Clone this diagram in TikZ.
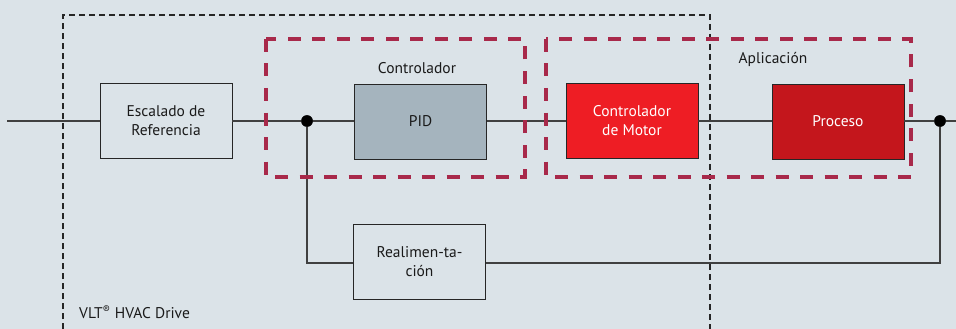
\documentclass[tikz,border=0pt]{standalone}
\usepackage{fontspec}
\setmainfont{PT Sans}
\definecolor{bg}{RGB}{219,227,232}
\definecolor{linec}{RGB}{64,64,64}
\definecolor{pidfill}{RGB}{165,180,190}
\definecolor{motorfill}{RGB}{238,29,36}
\definecolor{procfill}{RGB}{196,22,28}
\definecolor{reddash}{RGB}{168,41,74}
\definecolor{txt}{RGB}{26,26,26}
\begin{document}
\begin{tikzpicture}[x=1pt,y=-1pt,
  blk/.style={draw=black!85,line width=0.9pt,minimum width=132pt,minimum height=75pt,align=center,font=\fontsize{15.5}{19}\selectfont,text=txt,inner sep=0pt},
  conn/.style={draw=linec,line width=1.1pt},
  grp/.style={draw=reddash,line width=3.8pt,dash pattern=on 13pt off 11.5pt},
  drive/.style={draw=black!85,line width=1.3pt,dash pattern=on 6pt off 4pt},
  lbl/.style={font=\fontsize{15.5}{19}\selectfont,text=txt,inner sep=0pt},
  dot/.style={circle,fill=black,minimum size=11.5pt,inner sep=0pt}]
\fill[bg] (0,0) rectangle (956,329);
\useasboundingbox (0,0) rectangle (956,329);
% blocks
\node[blk,fill=bg] (esc) at (166,120.5) {Escalado de\\Referencia};
\node[blk,fill=pidfill] (pid) at (420.5,121.5) {PID};
\node[blk,fill=motorfill,text=white] (mot) at (632,120.5) {Controlador\\de Motor};
\node[blk,fill=procfill,text=white] (proc) at (838,121.5) {Proceso};
\node[blk,fill=bg] (fb) at (419.5,261.5) {Realimen-ta-\\ción};
% junctions and ends
\coordinate (in) at (7,121);
\node[dot] (j1) at (307,121) {};
\node[dot] (j2) at (940,121) {};
\coordinate (out) at (956,121);
\coordinate (c1) at (307,263);
\coordinate (c2) at (940,263);
% connectors
\draw[conn] (in) -- (esc.west|-in);
\draw[conn] (esc.east|-in) -- (j1);
\draw[conn] (j1) -- (pid.west|-j1);
\draw[conn] (pid.east|-j1) -- (mot.west|-j1);
\draw[conn] (mot.east|-j1) -- (proc.west|-j1);
\draw[conn] (proc.east|-j1) -- (j2) -- (out);
\draw[conn] (j1) -- (c1) -- (fb.west|-c1);
\draw[conn] (fb.east|-c2) -- (c2) -- (j2);
% redraw dots on top
\node[dot] at (j1) {};
\node[dot] at (j2) {};
% groups
\coordinate (dA) at (63,329);
\coordinate (dB) at (63,15);
\coordinate (dC) at (710,15);
\coordinate (dD) at (710,329);
\draw[drive] (dA) -- (dB) -- (dC) -- (dD);
\coordinate (g1a) at (266,39);
\coordinate (g1b) at (525,177);
\coordinate (g2a) at (546,39);
\coordinate (g2b) at (911,177);
\draw[grp] (g1a) rectangle (g1b);
\draw[grp] (g2a) rectangle (g2b);
% labels
\node[lbl] (lctl) at (417,68) {Controlador};
\node[lbl] (lapp) at (773,59) {Aplicación};
\node[lbl,anchor=west] (lvlt) at (79,312) {VLT\textsuperscript{®} HVAC Drive};
\end{tikzpicture}
\end{document}
